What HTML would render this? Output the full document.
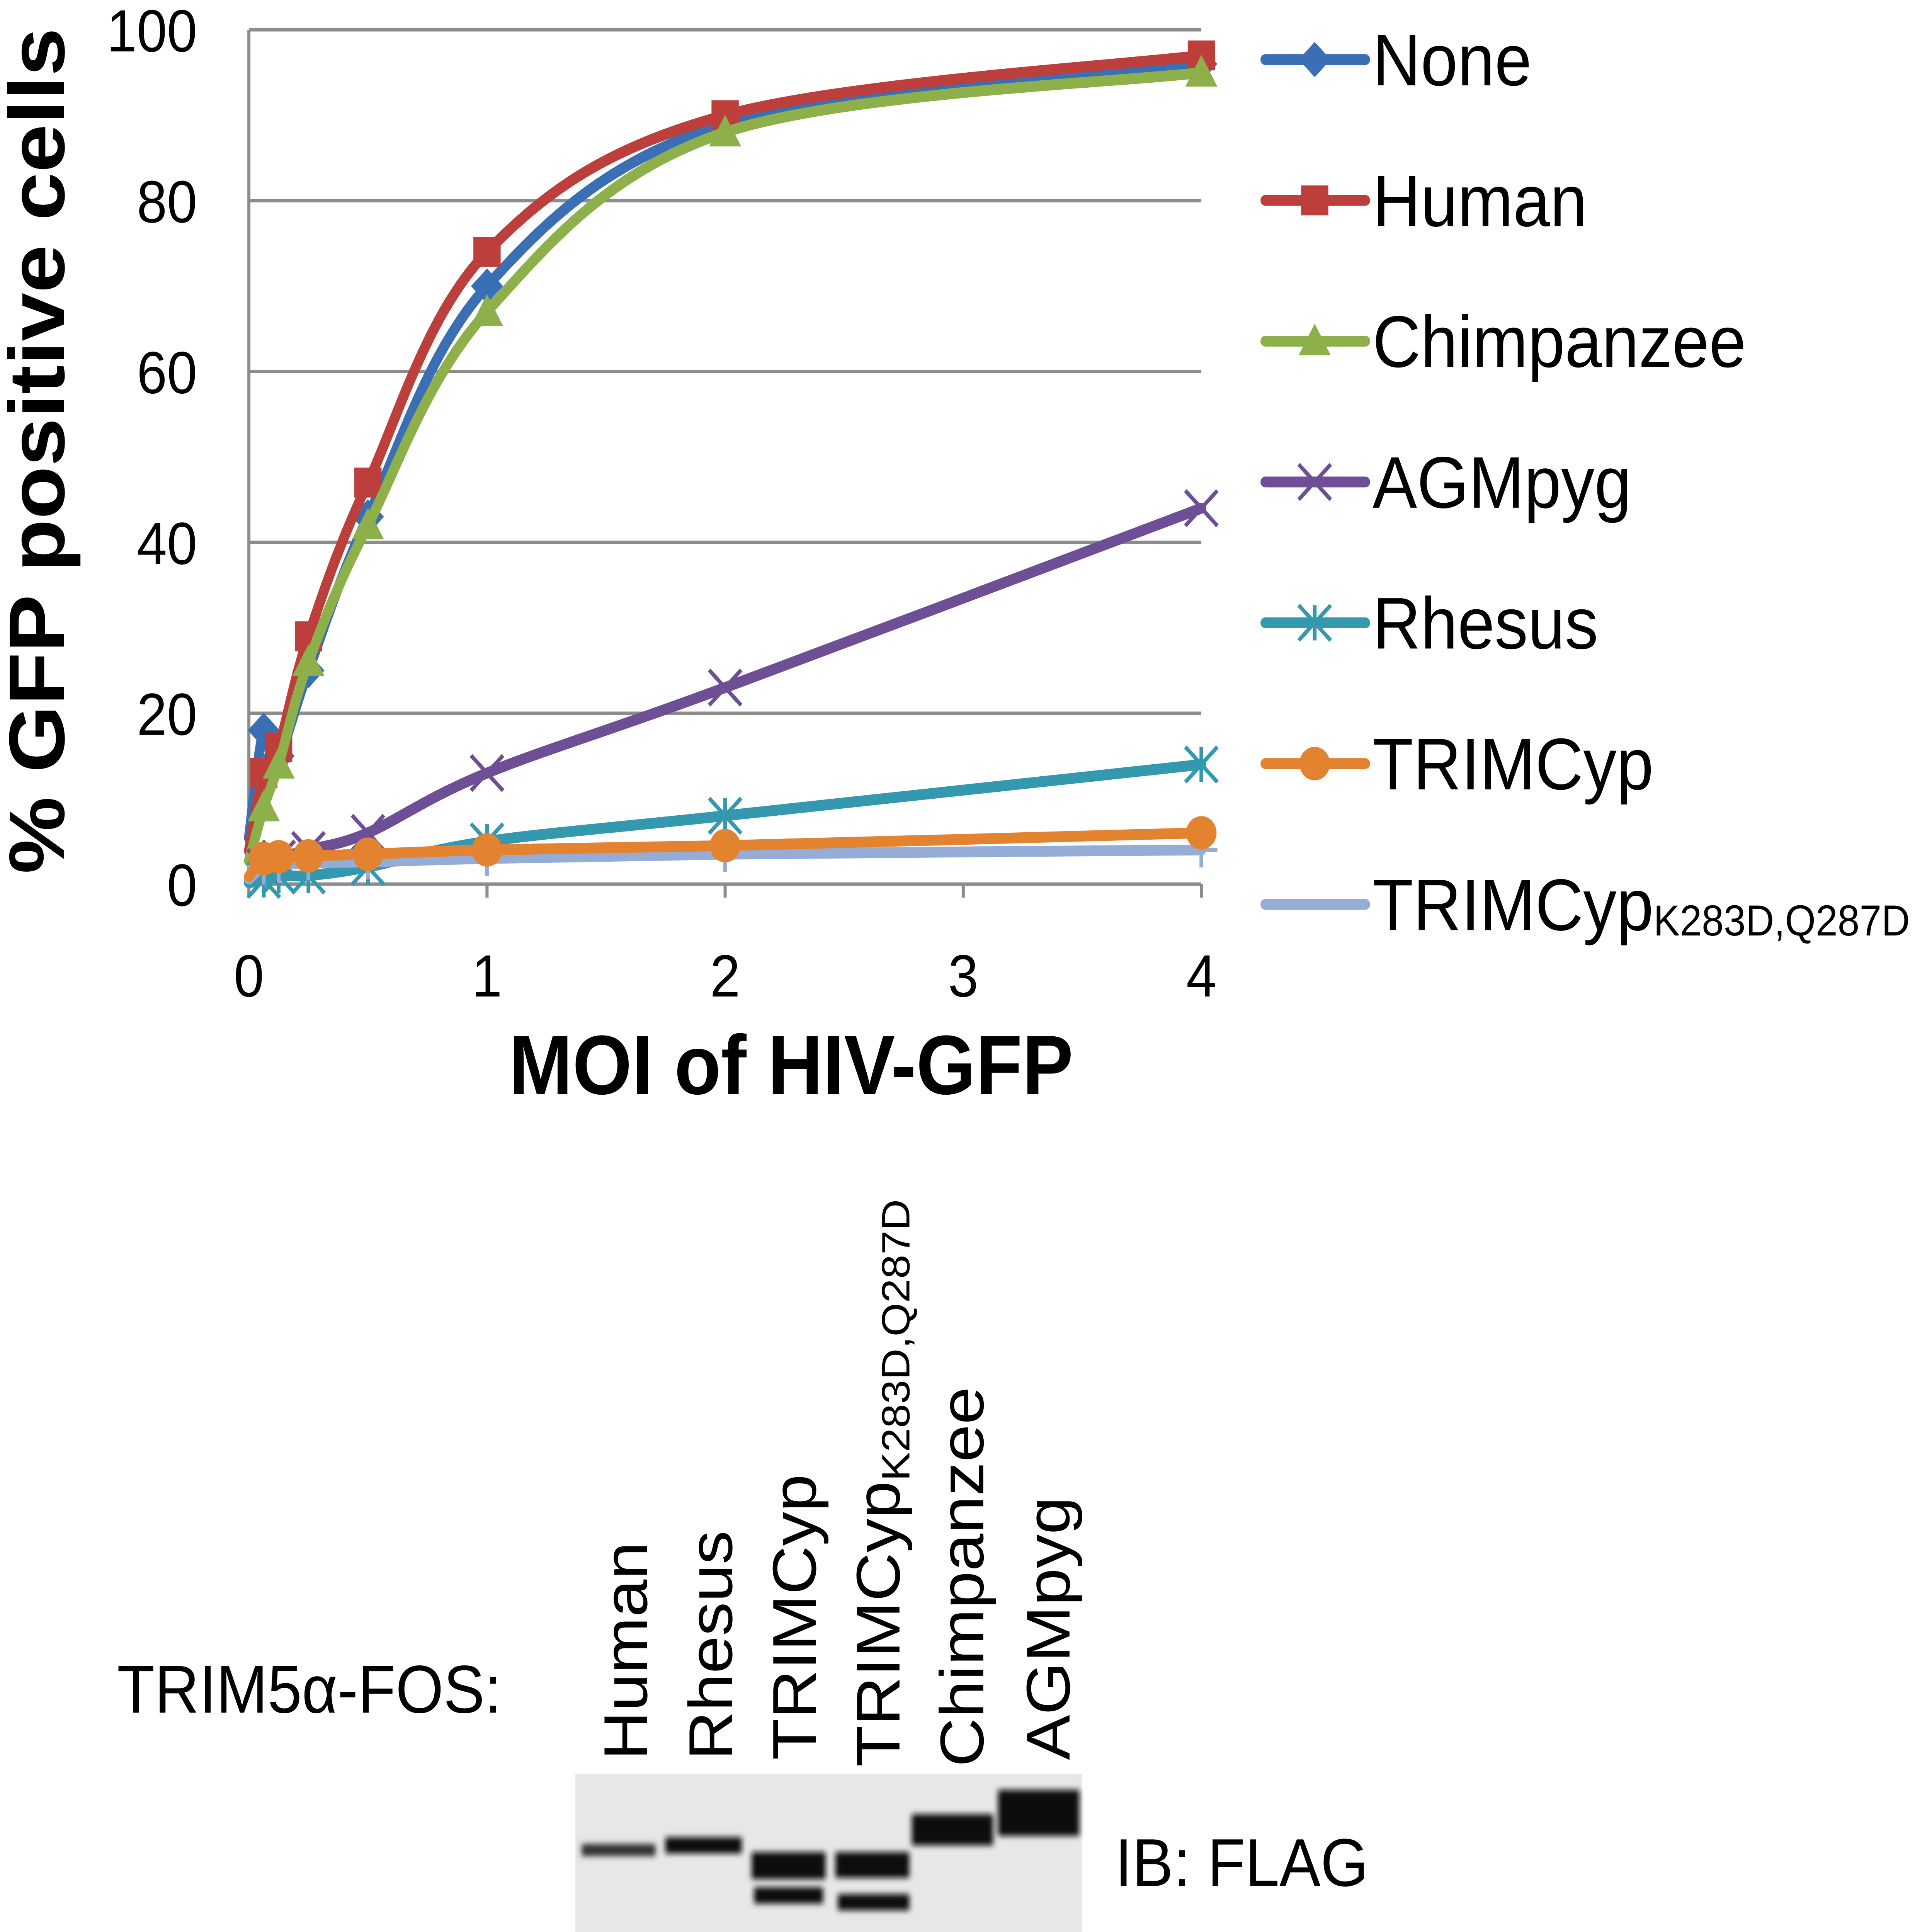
<!DOCTYPE html>
<html><head><meta charset="utf-8">
<style>
html,body{margin:0;padding:0;background:#fff;width:100%;height:100%;overflow:hidden;}
svg{display:block;position:fixed;left:0;top:0;width:100vw;height:100vh;}
text{font-family:"Liberation Sans",Arial,sans-serif;}
</style></head>
<body>
<svg id="chart" viewBox="0 0 1568 1427" preserveAspectRatio="none" xmlns="http://www.w3.org/2000/svg">
<defs>
<filter id="blur" x="-20%" y="-50%" width="140%" height="200%"><feGaussianBlur stdDeviation="2.2"/></filter>
</defs>
<g id="grid"></g>
<g id="axes"></g>
<g id="series"></g>
<g id="legend"></g>
<text transform="translate(52,333) rotate(-90)" text-anchor="middle" font-size="64" font-weight="bold">% GFP positive cells</text>
<text x="642" y="808" text-anchor="middle" font-size="62" font-weight="bold">MOI of HIV-GFP</text>

<g>
<text x="95" y="1265" font-size="50">TRIM5α-FOS:</text>
<g font-size="50">
<text transform="translate(525,1300) rotate(-90)">Human</text>
<text transform="translate(594,1300) rotate(-90)">Rhesus</text>
<text transform="translate(662,1300) rotate(-90)">TRIMCyp</text>
<text transform="translate(730,1305) rotate(-90)">TRIMCyp<tspan font-size="32" dy="8">K283D,Q287D</tspan></text>
<text transform="translate(798,1305) rotate(-90)">Chimpanzee</text>
<text transform="translate(868,1300) rotate(-90)">AGMpyg</text>
</g>
<rect x="467" y="1310" width="411" height="117" fill="#e6e7e8"/>
<g filter="url(#blur)" fill="#111">
<rect x="472" y="1362" width="60" height="9" fill="#333"/>
<rect x="540" y="1357" width="62" height="12"/>
<rect x="610" y="1368" width="60" height="20"/>
<rect x="612" y="1394" width="56" height="12"/>
<rect x="678" y="1368" width="60" height="19"/>
<rect x="680" y="1399" width="58" height="12"/>
<rect x="740" y="1340" width="66" height="23"/>
<rect x="810" y="1322" width="66" height="34"/>
</g>
<text x="905" y="1393" font-size="50">IB: FLAG</text>
</g>
</svg>
<script>
const xValues = [0.0625, 0.125, 0.25, 0.5, 1, 2, 4];
const seriesNames = ["None","Human","Chimpanzee","AGMpyg","Rhesus","TRIMCyp","TRIMCyp_K283D_Q287D"];
const noneVals = [18, 15, 25, 43, 70, 89, 96];
const humanVals = [13, 16, 29, 47, 74, 90, 97];
const chimpVals = [9, 14, 26, 42, 67, 88, 95];
const agmVals = [2, 3, 4, 6, 13, 23, 44];
const rhesusVals = [0.5, 1, 1, 2, 5, 8, 14];
const trimcypVals = [3, 3.2, 3.3, 3.5, 4, 4.5, 6];
const mutantVals = [2, 2.2, 2.5, 2.6, 3, 3.5, 4];
const yTicks = [0, 20, 40, 60, 80, 100];
const xTicks = [0, 1, 2, 3, 4];

const NS = "http://www.w3.org/2000/svg";
const X0 = 202, X1 = 975, Y0 = 653, Y1 = 22;
const xs = v => X0 + v / 4 * (X1 - X0);
const ys = v => Y0 - v / 100 * (Y0 - Y1);
function mk(tag, attrs, parent) {
  const e = document.createElementNS(NS, tag);
  for (const k in attrs) e.setAttribute(k, attrs[k]);
  parent.appendChild(e);
  return e;
}
const grid = document.getElementById('grid');
const axes = document.getElementById('axes');
yTicks.forEach(t => {
  if (t > 0) {
    const l = mk('line', {x1: X0, x2: X1, y1: ys(t), y2: ys(t), stroke: '#8c8c8c', 'stroke-width': 2.5}, grid);
    
    
  }
  const tx = mk('text', {x: 160, y: ys(t) + 16, 'text-anchor': 'end', 'font-size': 44}, axes);
  tx.textContent = t;
  
  
});
const yax = mk('line', {x1: X0, x2: X0, y1: Y1, y2: Y0, stroke: '#8c8c8c', 'stroke-width': 2.5}, axes);


const xax = mk('line', {x1: X0, x2: X1, y1: Y0, y2: Y0, stroke: '#8c8c8c', 'stroke-width': 2.5}, axes);


xTicks.forEach(t => {
  const tk = mk('line', {x1: xs(t), x2: xs(t), y1: Y0, y2: Y0 + 10, stroke: '#8c8c8c', 'stroke-width': 2.5}, axes);
  
  
  const tx = mk('text', {x: xs(t), y: 736, 'text-anchor': 'middle', 'font-size': 44}, axes);
  tx.textContent = t;
  
  
});

const allVals = [noneVals, humanVals, chimpVals, agmVals, rhesusVals, trimcypVals, mutantVals];
const colors = ['#3a6fb5', '#bd3f3b', '#8db04a', '#6e4f96', '#3499ae', '#e3832f', '#94acd6'];
const markers = ['diamond', 'square', 'triangle', 'x', 'star', 'circle', 'plus'];
const drawOrder = [0, 1, 2, 3, 4, 6, 5];

function smoothPath(pts) {
  let d = `M${pts[0][0]},${pts[0][1]}`;
  for (let i = 0; i < pts.length - 1; i++) {
    const p0 = pts[i - 1] || pts[i], p1 = pts[i], p2 = pts[i + 1], p3 = pts[i + 2] || p2;
    const t = 1 / 6;
    const c1 = [p1[0] + (p2[0] - p0[0]) * t, p1[1] + (p2[1] - p0[1]) * t];
    const c2 = [p2[0] - (p3[0] - p1[0]) * t, p2[1] - (p3[1] - p1[1]) * t];
    d += ` C${c1[0]},${c1[1]} ${c2[0]},${c2[1]} ${p2[0]},${p2[1]}`;
  }
  return d;
}
function marker(type, x, y, c, parent, s) {
  let m;
  if (type === 'diamond') m = mk('polygon', {points: `${x},${y-s} ${x+s},${y} ${x},${y+s} ${x-s},${y}`, fill: c}, parent);
  else if (type === 'square') m = mk('rect', {x: x - s * 0.85, y: y - s * 0.85, width: s * 1.7, height: s * 1.7, fill: c}, parent);
  else if (type === 'triangle') m = mk('polygon', {points: `${x},${y-s} ${x+s},${y+s*0.8} ${x-s},${y+s*0.8}`, fill: c}, parent);
  else if (type === 'circle') m = mk('circle', {cx: x, cy: y, r: s * 0.95, fill: c}, parent);
  else if (type === 'x') m = mk('path', {d: `M${x-s},${y-s}L${x+s},${y+s}M${x-s},${y+s}L${x+s},${y-s}`, stroke: c, 'stroke-width': 3, fill: 'none'}, parent);
  else if (type === 'star') m = mk('path', {d: `M${x-s},${y-s}L${x+s},${y+s}M${x-s},${y+s}L${x+s},${y-s}M${x},${y-s}L${x},${y+s}`, stroke: c, 'stroke-width': 3, fill: 'none'}, parent);
  else m = mk('path', {d: `M${x-s},${y}L${x+s},${y}M${x},${y-s}L${x},${y+s}`, stroke: c, 'stroke-width': 3, fill: 'none'}, parent);
  return m;
}
const sg = document.getElementById('series');
drawOrder.forEach(i => {
  const g = mk('g', {}, sg);
  
  
  const pts = [[xs(0), ys(allVals[i][0] * 0.3)]].concat(xValues.map((x, j) => [xs(x), ys(allVals[i][j])]));
  const p = mk('path', {d: smoothPath(pts), stroke: colors[i], 'stroke-width': 8, fill: 'none', 'stroke-linejoin': 'round', 'stroke-linecap': 'round'}, g);
  
  
  xValues.forEach((x, j) => {
    const m = marker(markers[i], xs(x), ys(allVals[i][j]), colors[i], g, 13);
    
    
  });
});

const lg = document.getElementById('legend');
const legendLabels = ['None', 'Human', 'Chimpanzee', 'AGMpyg', 'Rhesus', 'TRIMCyp', 'TRIMCyp'];
legendLabels.forEach((lab, i) => {
  const y = 44 + i * 104;
  const g = mk('g', {}, lg);
  
  
  const l = mk('line', {x1: 1027, x2: 1108, y1: y, y2: y, stroke: colors[i], 'stroke-width': 8, 'stroke-linecap': 'round'}, g);
  
  
  if (i < 6) {
    const m = marker(markers[i], 1067, y, colors[i], g, 13);
    
    
  }
  const t = mk('text', {x: 1114, y: y + 19, 'font-size': 54}, g);
  
  
  t.textContent = lab;
  if (i === 6) {
    const ts = mk('tspan', {'font-size': 32, dy: 4}, t);
    ts.textContent = 'K283D,Q287D';
  }
});
</script>
</body></html>
